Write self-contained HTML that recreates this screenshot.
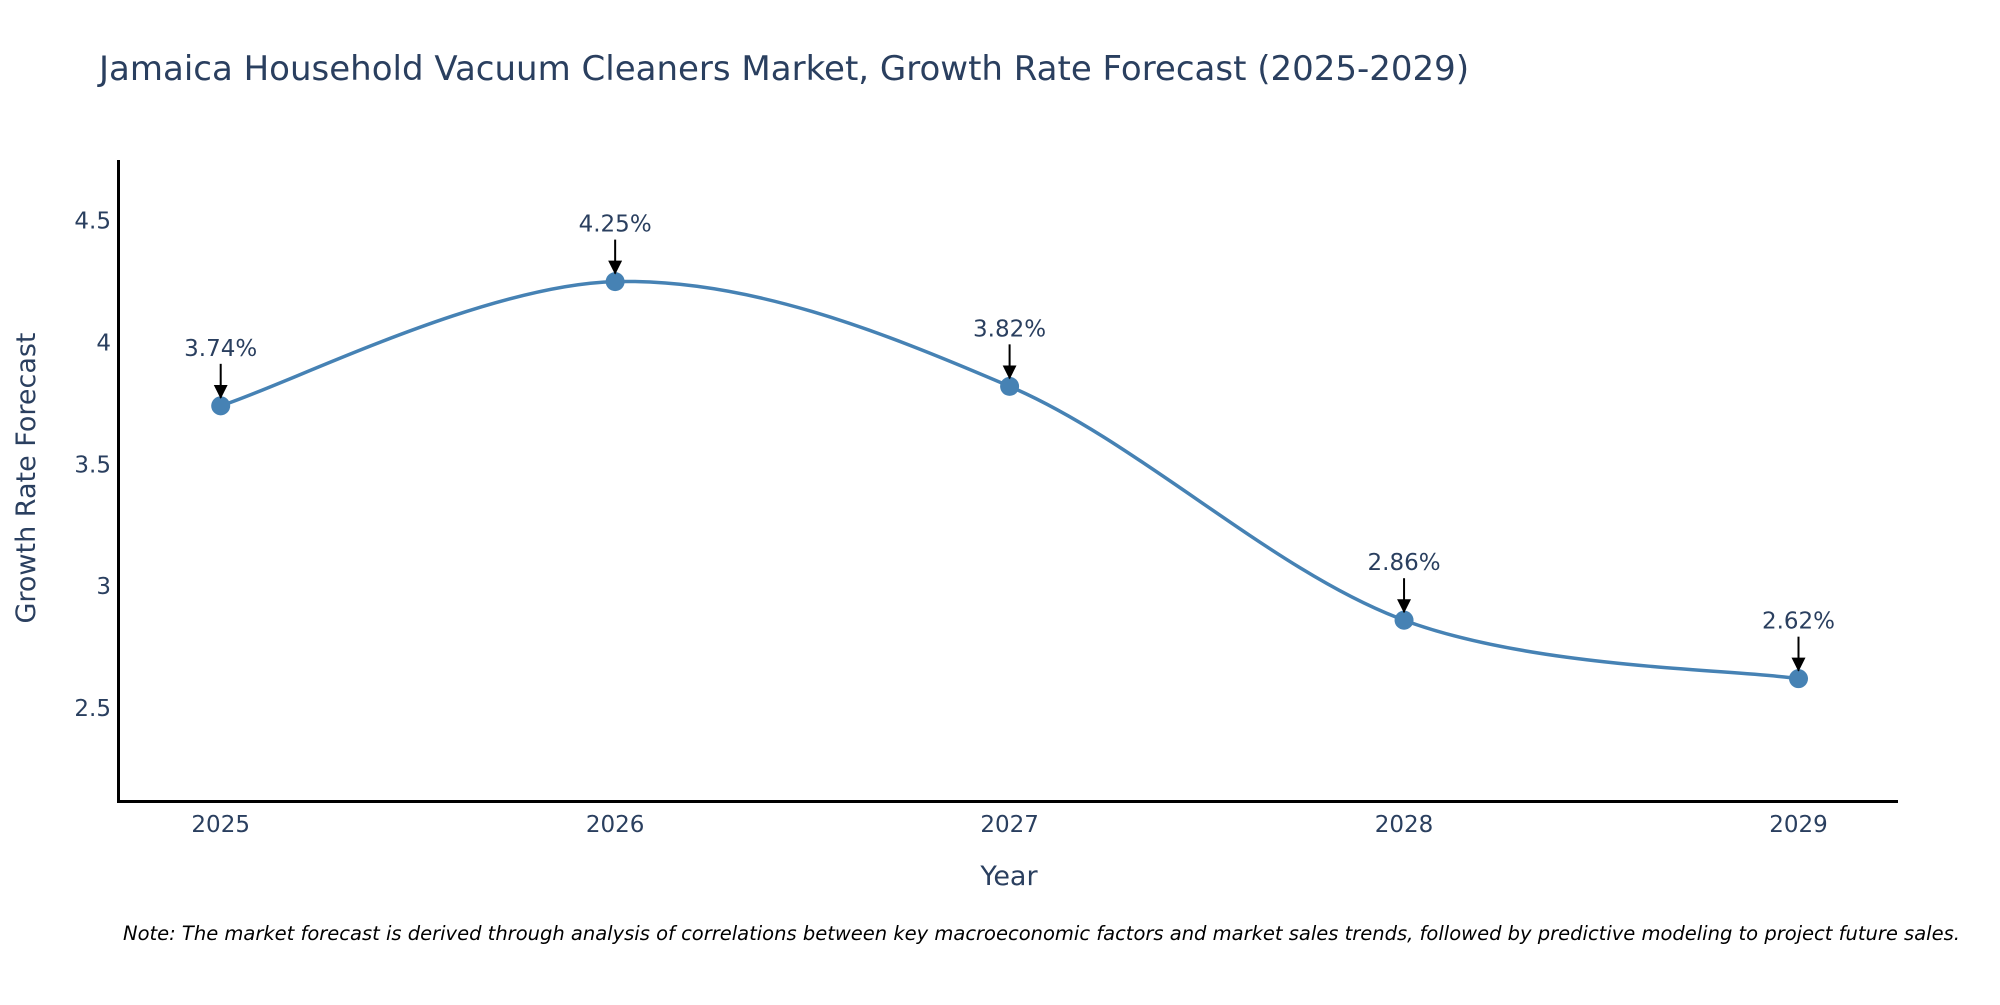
<!DOCTYPE html>
<html><head><meta charset="utf-8"><style>
html,body{margin:0;padding:0;background:#fff;}
svg text{font-family:"DejaVu Sans","Liberation Sans",sans-serif;fill:#2a3f5f;}
</style></head><body>
<svg id="chart" width="2000" height="1000" xmlns="http://www.w3.org/2000/svg">
<defs><marker id="ah" markerWidth="14" markerHeight="14" refX="13" refY="7" orient="auto" markerUnits="userSpaceOnUse" viewBox="0 0 14 14"><path d="M0,0 L14,7 L0,14 z" fill="#000"/></marker></defs>
<text x="99" y="80" font-size="34">Jamaica Household Vacuum Cleaners Market, Growth Rate Forecast (2025-2029)</text>
<g id="plot"></g>
<line x1="118.5" y1="160" x2="118.5" y2="803" stroke="#000" stroke-width="3"/>
<line x1="117" y1="801.5" x2="1898" y2="801.5" stroke="#000" stroke-width="3"/>
<text x="0" y="0" font-size="27" text-anchor="middle" transform="translate(35,478) rotate(-90)">Growth Rate Forecast</text>
<text x="1009" y="885" font-size="27" text-anchor="middle">Year</text>
<text x="123" y="940" font-size="19.5" font-style="italic" style="fill:#000">Note: The market forecast is derived through analysis of correlations between key macroeconomic factors and market sales trends, followed by predictive modeling to project future sales.</text>
</svg>
<script>
const years = [2025, 2026, 2027, 2028, 2029];
const growth = [3.74, 4.25, 3.82, 2.86, 2.62];
const yTicks = [2.5, 3, 3.5, 4, 4.5];
const yTickLabels = ["2.5", "3", "3.5", "4", "4.5"];
const valueLabels = ["3.74%", "4.25%", "3.82%", "2.86%", "2.62%"];

const NS = "http://www.w3.org/2000/svg";
const g = document.getElementById("plot");
function x(v){ return 220.7 + (v - 2025) * 394.45; }
function y(v){ return 220.7 + (4.5 - v) * 243.6; }
function mk(tag, attrs){ const e = document.createElementNS(NS, tag); for (const k in attrs) e.setAttribute(k, attrs[k]); g.appendChild(e); return e; }

yTicks.forEach((t, i) => {
  const e = mk("text", {x: 111, y: y(t) + 8, "font-size": 23, "text-anchor": "end"});
  e.textContent = yTickLabels[i];
  
  
});
years.forEach(yr => {
  const e = mk("text", {x: x(yr), y: 832, "font-size": 23, "text-anchor": "middle"});
  e.textContent = String(yr);
  
  
});

const pts = years.map((yr, i) => [x(yr), y(growth[i])]);
let d = "M" + pts[0][0] + "," + pts[0][1];
const s = 1/6;
for (let i = 0; i < pts.length - 1; i++) {
  const p0 = pts[Math.max(0, i - 1)], p1 = pts[i], p2 = pts[i + 1], p3 = pts[Math.min(pts.length - 1, i + 2)];
  const c1 = [p1[0] + (p2[0] - p0[0]) * s, p1[1] + (p2[1] - p0[1]) * s];
  const c2 = [p2[0] - (p3[0] - p1[0]) * s, p2[1] - (p3[1] - p1[1]) * s];
  d += " C" + c1.join(",") + " " + c2.join(",") + " " + p2.join(",");
}
const line = mk("path", {d: d, fill: "none", stroke: "#4682b4", "stroke-width": 3.5});



pts.forEach((p, i) => {
  const c = mk("circle", {cx: p[0], cy: p[1], r: 9.5, fill: "#4682b4"});
  
  
  const a = mk("line", {x1: p[0], y1: p[1] - 42, x2: p[0], y2: p[1] - 8, stroke: "#000", "stroke-width": 2, "marker-end": "url(#ah)"});
  
  
  const t = mk("text", {x: p[0], y: p[1] - 50, "font-size": 23, "text-anchor": "middle"});
  t.textContent = valueLabels[i];
  
  
});
</script>
</body></html>
